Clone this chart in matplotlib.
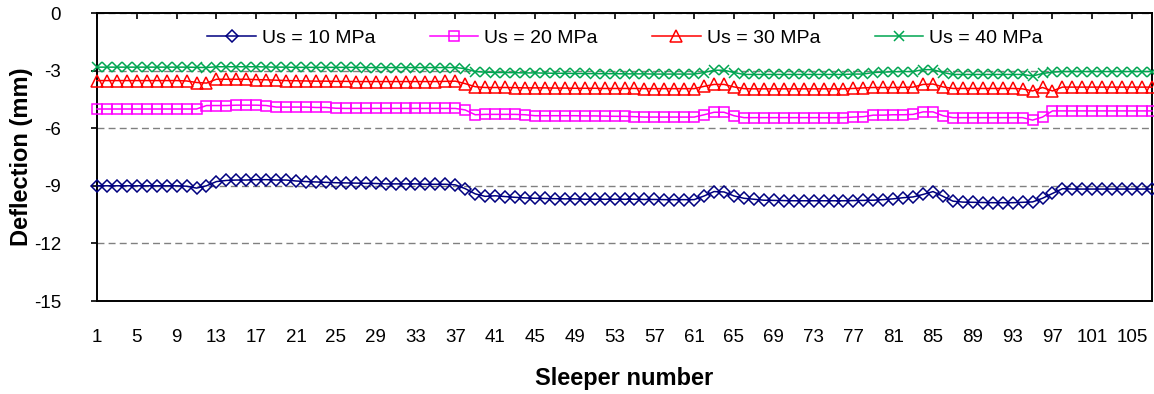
import matplotlib
matplotlib.use("Agg")
import matplotlib.pyplot as plt
import numpy as np

plt.rcParams["font.family"] = ["Liberation Sans", "DejaVu Sans"]
plt.rcParams["axes.unicode_minus"] = False

# sleeper numbers 1..107
sleeper = np.arange(1, 108)

us10 = [
    -9.00, -9.00, -9.00, -9.00, -9.00, -9.00, -9.00, -9.00, -9.00, -9.02,
    -9.12, -9.00, -8.78, -8.72, -8.70, -8.70, -8.68, -8.68, -8.70, -8.70,
    -8.75, -8.78, -8.80, -8.82, -8.84, -8.85, -8.86, -8.87, -8.88, -8.90,
    -8.90, -8.90, -8.90, -8.92, -8.92, -8.92, -8.95, -9.15, -9.42, -9.55,
    -9.52, -9.56, -9.60, -9.63, -9.65, -9.66, -9.67, -9.68, -9.68, -9.70,
    -9.70, -9.70, -9.70, -9.70, -9.70, -9.71, -9.71, -9.72, -9.72, -9.72,
    -9.72, -9.53, -9.30, -9.32, -9.53, -9.65, -9.70, -9.75, -9.76, -9.77,
    -9.78, -9.78, -9.78, -9.78, -9.78, -9.78, -9.77, -9.76, -9.75, -9.72,
    -9.68, -9.62, -9.58, -9.45, -9.30, -9.55, -9.80, -9.85, -9.86, -9.87,
    -9.88, -9.88, -9.88, -9.86, -9.84, -9.65, -9.40, -9.15, -9.17, -9.17,
    -9.17, -9.17, -9.17, -9.17, -9.17, -9.17, -9.17,
]

us20 = [
    -5.00, -5.00, -5.00, -5.00, -5.00, -5.00, -5.00, -5.00, -5.00, -5.00,
    -5.00, -4.82, -4.82, -4.82, -4.80, -4.80, -4.80, -4.82, -4.90, -4.90,
    -4.90, -4.90, -4.92, -4.92, -4.96, -4.97, -4.97, -4.97, -4.97, -4.97,
    -4.97, -4.97, -4.97, -4.97, -4.97, -4.97, -4.97, -5.05, -5.30, -5.28,
    -5.28, -5.28, -5.28, -5.30, -5.35, -5.35, -5.35, -5.35, -5.35, -5.36,
    -5.36, -5.37, -5.38, -5.38, -5.40, -5.42, -5.42, -5.42, -5.42, -5.42,
    -5.42, -5.30, -5.17, -5.17, -5.35, -5.45, -5.45, -5.45, -5.45, -5.45,
    -5.45, -5.45, -5.45, -5.45, -5.45, -5.45, -5.42, -5.40, -5.32, -5.32,
    -5.30, -5.30, -5.28, -5.15, -5.15, -5.35, -5.45, -5.45, -5.45, -5.45,
    -5.45, -5.45, -5.45, -5.45, -5.58, -5.42, -5.10, -5.10, -5.10, -5.10,
    -5.10, -5.10, -5.10, -5.10, -5.10, -5.10, -5.10,
]

us30 = [
    -3.52, -3.52, -3.52, -3.52, -3.52, -3.52, -3.52, -3.52, -3.52, -3.54,
    -3.62, -3.65, -3.45, -3.45, -3.45, -3.45, -3.47, -3.48, -3.50, -3.52,
    -3.53, -3.54, -3.55, -3.55, -3.56, -3.56, -3.57, -3.57, -3.57, -3.57,
    -3.57, -3.57, -3.57, -3.57, -3.57, -3.56, -3.55, -3.68, -3.84, -3.88,
    -3.88, -3.88, -3.89, -3.90, -3.90, -3.90, -3.91, -3.91, -3.92, -3.92,
    -3.92, -3.93, -3.93, -3.93, -3.93, -3.94, -3.94, -3.94, -3.94, -3.94,
    -3.94, -3.82, -3.72, -3.72, -3.85, -3.94, -3.95, -3.95, -3.95, -3.95,
    -3.95, -3.95, -3.95, -3.95, -3.95, -3.95, -3.93, -3.90, -3.88, -3.88,
    -3.88, -3.87, -3.86, -3.72, -3.70, -3.85, -3.93, -3.93, -3.93, -3.93,
    -3.93, -3.93, -3.93, -3.95, -4.06, -3.88, -4.06, -3.86, -3.86, -3.86,
    -3.86, -3.86, -3.86, -3.86, -3.86, -3.86, -3.86,
]

us40 = [
    -2.82, -2.82, -2.82, -2.82, -2.82, -2.82, -2.82, -2.82, -2.82, -2.82,
    -2.83, -2.84, -2.80, -2.80, -2.80, -2.80, -2.80, -2.81, -2.82, -2.82,
    -2.83, -2.83, -2.83, -2.83, -2.83, -2.83, -2.83, -2.84, -2.84, -2.84,
    -2.84, -2.84, -2.84, -2.84, -2.84, -2.84, -2.84, -2.90, -3.05, -3.08,
    -3.10, -3.10, -3.11, -3.12, -3.12, -3.13, -3.14, -3.14, -3.15, -3.15,
    -3.16, -3.16, -3.16, -3.17, -3.17, -3.17, -3.18, -3.18, -3.18, -3.18,
    -3.18, -3.10, -2.98, -2.98, -3.10, -3.20, -3.20, -3.20, -3.20, -3.20,
    -3.20, -3.20, -3.20, -3.20, -3.20, -3.20, -3.18, -3.18, -3.10, -3.08,
    -3.06, -3.05, -3.05, -2.95, -2.95, -3.10, -3.20, -3.20, -3.20, -3.20,
    -3.20, -3.20, -3.20, -3.20, -3.28, -3.15, -3.08, -3.05, -3.05, -3.05,
    -3.05, -3.05, -3.05, -3.05, -3.05, -3.05, -3.05,
]

series = [
    ("Us = 10 MPa", us10, "#000080", "D", 6.5),
    ("Us = 20 MPa", us20, "#FF00FF", "s", 7.5),
    ("Us = 30 MPa", us30, "#FF0000", "^", 8.0),
    ("Us = 40 MPa", us40, "#00A651", "x", 7.0),
]

fig = plt.figure(figsize=(11.54, 3.94), dpi=100)
ax = fig.add_axes([97 / 1154, 1 - 301 / 394, 1055 / 1154, 288 / 394])

for label, vals, col, mk, ms in series:
    ax.plot(sleeper, vals, color=col, lw=1.1, marker=mk, ms=ms,
            mfc="none", mec=col, mew=1.1, label=label, clip_on=False, zorder=3)

ax.set_xlim(1, 107)
ax.set_ylim(-15, 0)
ax.set_yticks(np.arange(-15, 1, 3))
ax.set_xticks(np.arange(1, 108, 4))
ax.yaxis.grid(True, color="#808080", lw=1.0, ls=(0, (5, 3)), zorder=1)
ax.set_axisbelow(True)

for sp in ax.spines.values():
    sp.set_linewidth(1.4)
    sp.set_color("black")

ax.tick_params(axis="x", top=True, bottom=False, direction="in", length=4,
               width=1.2, labelsize=13.5, pad=20)
ax.tick_params(axis="y", direction="out", length=4, width=1.2,
               labelsize=13.5, pad=22)

ax.set_xlabel("Sleeper number", fontsize=17, fontweight="bold")
ax.set_ylabel("Deflection (mm)", fontsize=17, fontweight="bold")
ax.xaxis.set_label_coords(0.5, (301 - 378) / 288)
ax.yaxis.set_label_coords((22 - 97) / 1055, 0.5)
ax.xaxis.label.set_va("center")
ax.yaxis.label.set_va("center")

fig.legend(loc="center", bbox_to_anchor=(625 / 1154, 1 - 38 / 394), ncol=4,
           frameon=False, fontsize=14, handlelength=2.5, handletextpad=0.3,
           columnspacing=2.8)

fig.savefig("out.png", dpi=100)
